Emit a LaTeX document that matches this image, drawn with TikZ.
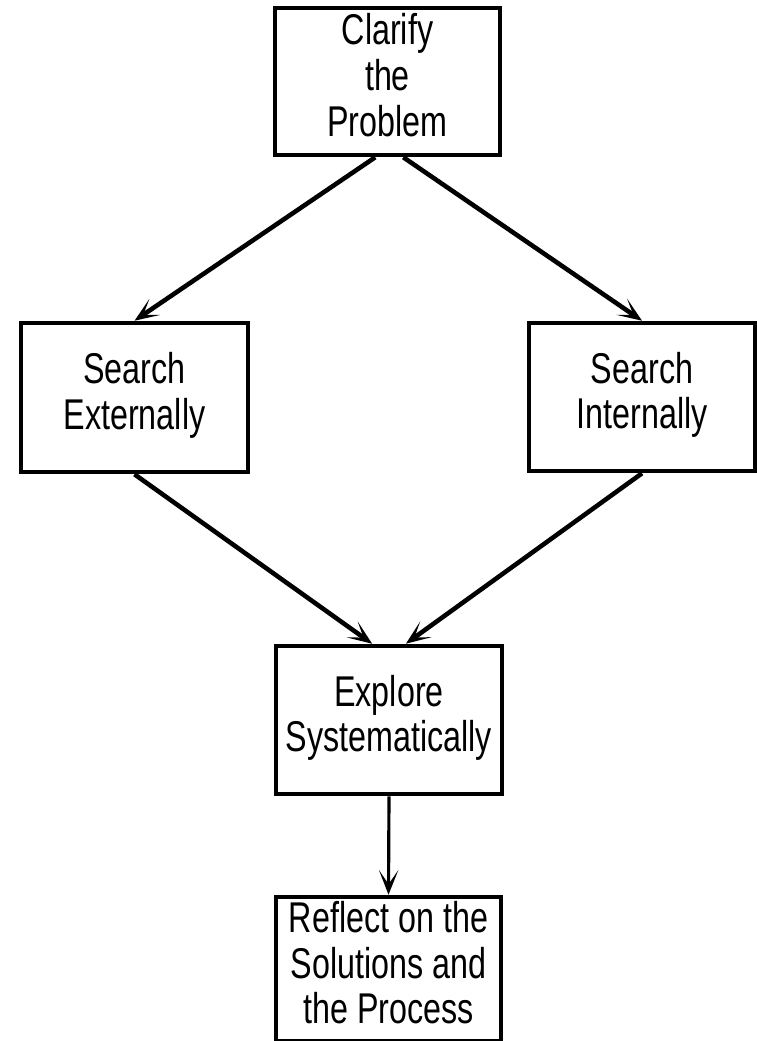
\documentclass[tikz,border=0pt]{standalone}
\usepackage{fontspec}
\setmainfont{Liberation Sans}
\usetikzlibrary{arrows.meta}

\newcommand{\boxtext}[1]{\scalebox{0.75}[1]{\begin{tabular}{@{}c@{}}#1\end{tabular}}}

\begin{document}
\begin{tikzpicture}[x=0.02cm,y=-0.02cm]

      \useasboundingbox (0,0) rectangle (757,1041);

      \begin{scope}[every node/.style={rectangle,draw,line width=2.6pt,fill=white,inner sep=0pt,
          font=\fontsize{24.5}{26}\selectfont}]
        \node[minimum width=225*0.02cm,minimum height=147*0.02cm] (clarify) at (387.5,81.5)
          {\boxtext{Clarify\\the\\Problem}};
        \node[minimum width=227*0.02cm,minimum height=149*0.02cm] (external) at (134.5,397.5)
          {\boxtext{Search\\Externally}};
        \node[minimum width=226*0.02cm,minimum height=148*0.02cm] (internal) at (642,397)
          {\boxtext{Search\\Internally}};
        \node[minimum width=226*0.02cm,minimum height=148*0.02cm] (explore) at (389,720)
          {\boxtext{Explore\\Systematically}};
        \node[minimum width=225*0.02cm,minimum height=144*0.02cm] (reflect) at (388.5,969)
          {\boxtext{Reflect on the\\Solutions and\\the Process}};
      \end{scope}

      \begin{scope}[every edge/.style={draw,line width=2.6pt,
          -{Stealth[length=14pt,width=11pt,inset=8pt]}}]
        \path ([xshift=-7pt]clarify.south) edge (external.north);
        \path ([xshift=9pt]clarify.south)  edge (internal.north);
        \path (external.south) edge ([xshift=-9.6pt]explore.north);
        \path (internal.south) edge ([xshift=9.6pt]explore.north);
        \path (explore.south)  edge[line width=1.8pt] (reflect.north);
      \end{scope}

    \end{tikzpicture}
\end{document}
